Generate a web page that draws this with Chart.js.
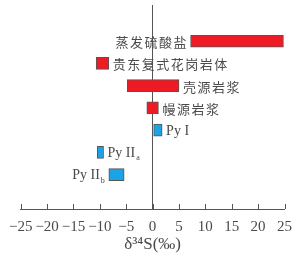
<!DOCTYPE html>
<html>
<head>
<meta charset="utf-8">
<script src="https://cdn.jsdelivr.net/npm/chart.js@4"></script>
<style>
  html, body { margin: 0; padding: 0; background: #fff; }
  #wrap { width: 301px; height: 257px; }
</style>
</head>
<body>
<div id="wrap"><canvas id="sulfurChart"></canvas></div>
<script>
// rows, top to bottom
const categories = ['蒸发硫酸盐', '贵东复式花岗岩体', '壳源岩浆', '幔源岩浆', 'Py I', 'Py II', 'Py II'];
const subscripts = ['', '', '', '', '', 'a', 'b'];
const lowValues = [7.2, -10.7, -4.8, -1.1, 0.2, -10.5, -8.3];
const highValues = [24.8, -8.3, 5.0, 1.1, 1.8, -9.3, -5.4];
const labelSide = ['left', 'right', 'right', 'right', 'right', 'right', 'left'];
const barColors = ['#ed1c24', '#ed1c24', '#ed1c24', '#ed1c24', '#1ba3e6', '#1ba3e6', '#1ba3e6'];
const xTicks = [-25, -20, -15, -10, -5, 0, 5, 10, 15, 20, 25];

const cjkFont = '13px "Noto Sans CJK SC", sans-serif';
const latinFont = '14px "Liberation Serif", serif';
const textColor = '#4a4a4a';

// bar labels beside each bar
const barLabels = {
    id: 'barLabels',
    afterDatasetsDraw(chart) {
        const ctx = chart.ctx;
        const meta = chart.getDatasetMeta(0);
        ctx.save();
        ctx.fillStyle = textColor;
        ctx.textBaseline = 'middle';
        meta.data.forEach((bar, i) => {
            const p = bar.getProps(['x', 'base', 'y'], true);
            const isCjk = /[\u4e00-\u9fff]/.test(categories[i]);
            ctx.font = isCjk ? cjkFont : latinFont;
            ctx.letterSpacing = isCjk ? '1.5px' : '0px';
            const mainW = ctx.measureText(categories[i]).width;
            let subW = 0;
            if (subscripts[i]) {
                ctx.font = '8px "Liberation Serif", serif';
                subW = ctx.measureText(subscripts[i]).width + 1;
                ctx.font = latinFont;
            }
            let x;
            if (labelSide[i] === 'right') {
                x = Math.max(p.x, p.base) + 4;
            } else {
                x = Math.min(p.x, p.base) - 4 - mainW - subW + (isCjk ? 1.5 : 0);
            }
            ctx.textAlign = 'left';
            ctx.fillText(categories[i], x, p.y + 1);
            if (subscripts[i]) {
                ctx.font = '8px "Liberation Serif", serif';
                ctx.fillText(subscripts[i], x + mainW + 1, p.y + 6);
            }
        });
        ctx.restore();
    }
};

// tick marks pointing up from the axis
const innerTicks = {
    id: 'innerTicks',
    afterDraw(chart) {
        const ctx = chart.ctx;
        const xs = chart.scales.x;
        const yBottom = chart.chartArea.bottom;
        ctx.save();
        ctx.strokeStyle = '#555';
        ctx.lineWidth = 1;
        xs.ticks.forEach(t => {
            const px = Math.round(xs.getPixelForValue(t.value)) + 0.5;
            ctx.beginPath();
            ctx.moveTo(px, yBottom);
            ctx.lineTo(px, yBottom - 5);
            ctx.stroke();
        });
        ctx.restore();
    }
};

const ctx = document.getElementById('sulfurChart').getContext('2d');
const sulfurChart = new Chart(ctx, {
    type: 'bar',
    data: {
        datasets: [{
            data: categories.map((c, i) => ({ x: [lowValues[i], highValues[i]], y: i })),
            backgroundColor: barColors,
            borderColor: '#555',
            borderWidth: 1,
            borderSkipped: false,
            barThickness: 12
        }]
    },
    options: {
        indexAxis: 'y',
        responsive: true,
        maintainAspectRatio: false,
        animation: false,
        layout: { padding: { left: 18, right: 12, top: 5, bottom: 0 } },
        plugins: {
            legend: { display: false },
            tooltip: { enabled: false }
        },
        scales: {
            x: {
                type: 'linear',
                min: -25,
                max: 25,
                afterBuildTicks: s => { s.ticks = xTicks.map(v => ({ value: v })); },
                afterFit: s => { s.height = 48; },
                border: { display: true, color: '#555', width: 1 },
                grid: {
                    drawTicks: false,
                    color: c => (c.tick && c.tick.value === 0) ? '#555' : 'rgba(0,0,0,0)',
                    lineWidth: 1
                },
                ticks: {
                    padding: 9,
                    autoSkip: false,
                    maxRotation: 0,
                    minRotation: 0,
                    color: textColor,
                    font: { family: '"Liberation Serif", serif', size: 15 },
                    callback: v => (v < 0 ? '\u2212' + Math.abs(v) : String(v))
                },
                title: {
                    display: true,
                    text: 'δ³⁴S(‰)',
                    color: textColor,
                    font: { family: '"Liberation Serif", serif', size: 17 },
                    padding: { top: 0, bottom: 2 }
                }
            },
            y: {
                type: 'linear',
                reverse: true,
                min: -1.12,
                max: 7.04,
                display: false
            }
        }
    },
    plugins: [barLabels, innerTicks]
});
</script>
</body>
</html>
